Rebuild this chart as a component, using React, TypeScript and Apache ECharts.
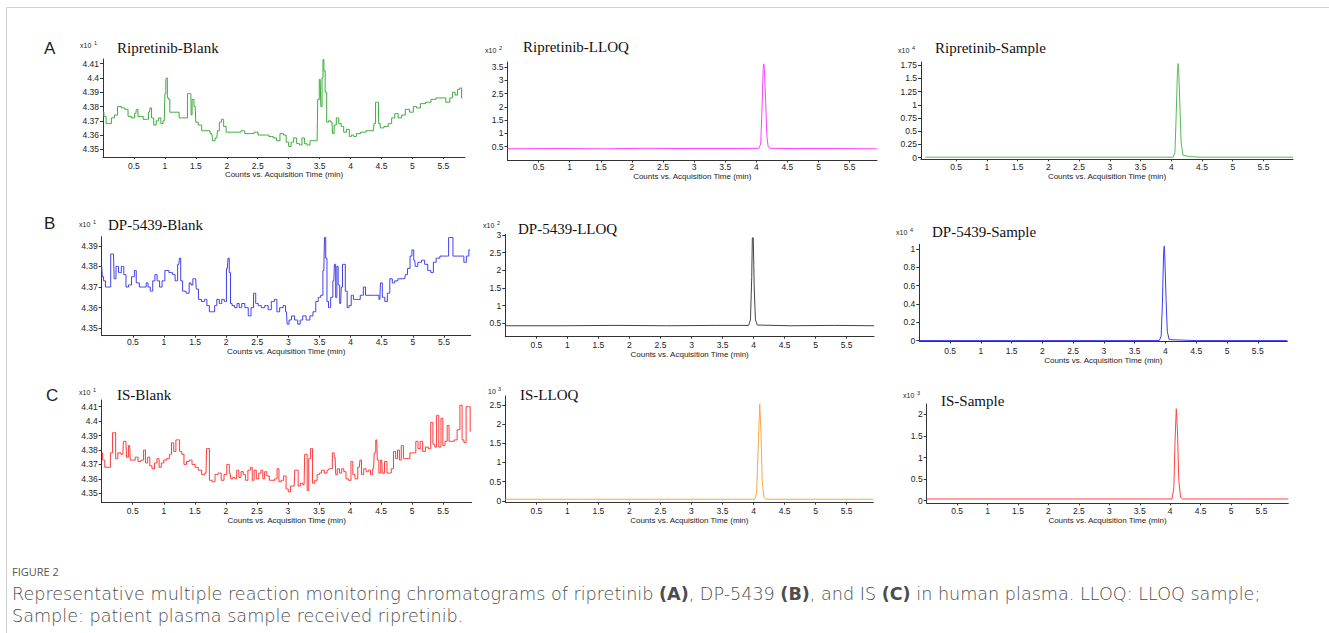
import React, { useEffect, useRef } from "react";
import * as echarts from "echarts";

// ---- data (time in min, response in displayed units) ----
const ripretinibBlank: [number, number][] = [
  [0, 4.376], [0.03, 4.373], [0.07, 4.368], [0.11, 4.368], [0.16, 4.372], [0.21, 4.374], [0.26, 4.38], [0.33, 4.379],
  [0.38, 4.378], [0.43, 4.373], [0.49, 4.372], [0.53, 4.375], [0.55, 4.378], [0.58, 4.373], [0.62, 4.373], [0.68, 4.371],
  [0.72, 4.371], [0.75, 4.376], [0.77, 4.379], [0.8, 4.372], [0.84, 4.367], [0.88, 4.37], [0.92, 4.372], [0.95, 4.368],
  [0.99, 4.37], [1.01, 4.389], [1.02, 4.399], [1.03, 4.4], [1.05, 4.386], [1.07, 4.385], [1.09, 4.376], [1.19, 4.376],
  [1.27, 4.372], [1.35, 4.372], [1.38, 4.389], [1.42, 4.389], [1.43, 4.374], [1.45, 4.385], [1.49, 4.38], [1.51, 4.369],
  [1.57, 4.367], [1.62, 4.363], [1.7, 4.363], [1.76, 4.361], [1.78, 4.356], [1.84, 4.358], [1.86, 4.363], [1.9, 4.369],
  [1.93, 4.371], [1.97, 4.366], [2.01, 4.362], [2.11, 4.362], [2.19, 4.362], [2.27, 4.363], [2.31, 4.361], [2.4, 4.361],
  [2.48, 4.362], [2.53, 4.36], [2.64, 4.36], [2.72, 4.359], [2.78, 4.358], [2.83, 4.356], [2.89, 4.361], [2.94, 4.36],
  [2.98, 4.355], [3.02, 4.352], [3.06, 4.355], [3.1, 4.358], [3.16, 4.354], [3.19, 4.353], [3.24, 4.358], [3.27, 4.354],
  [3.32, 4.353], [3.37, 4.356], [3.46, 4.356], [3.48, 4.385], [3.51, 4.399], [3.53, 4.38], [3.55, 4.4], [3.56, 4.413],
  [3.58, 4.405], [3.6, 4.39], [3.63, 4.369], [3.66, 4.37], [3.7, 4.369], [3.72, 4.361], [3.75, 4.367], [3.79, 4.372],
  [3.83, 4.368], [3.87, 4.366], [3.91, 4.362], [3.96, 4.364], [4.0, 4.359], [4.03, 4.36], [4.07, 4.359], [4.12, 4.361],
  [4.21, 4.362], [4.29, 4.363], [4.37, 4.363], [4.39, 4.368], [4.42, 4.383], [4.45, 4.383], [4.46, 4.368], [4.5, 4.365],
  [4.58, 4.366], [4.64, 4.368], [4.69, 4.372], [4.74, 4.375], [4.8, 4.372], [4.85, 4.374], [4.92, 4.378], [4.99, 4.376],
  [5.04, 4.38], [5.09, 4.379], [5.17, 4.382], [5.26, 4.383], [5.34, 4.385], [5.42, 4.386], [5.5, 4.386], [5.58, 4.383],
  [5.63, 4.386], [5.67, 4.39], [5.71, 4.388], [5.75, 4.392], [5.78, 4.393], [5.81, 4.386],
];

const ripretinibLLOQ: [number, number][] = [
  [0, 0.42], [0.8, 0.43], [1.6, 0.42], [2.2, 0.44], [3.0, 0.43], [3.7, 0.43], [4.04, 0.44], [4.07, 0.6], [4.09, 1.8],
  [4.11, 3.4], [4.12, 3.62], [4.13, 3.4], [4.15, 2.2], [4.17, 0.9], [4.19, 0.5], [4.22, 0.44], [4.6, 0.43], [5.2, 0.43],
  [5.94, 0.42],
];

const ripretinibSample: [number, number][] = [
  [0, 0.01], [1.0, 0.01], [2.0, 0.01], [3.0, 0.01], [4.03, 0.01], [4.06, 0.1], [4.08, 0.8], [4.1, 1.6], [4.11, 1.78],
  [4.12, 1.7], [4.14, 1.0], [4.16, 0.3], [4.19, 0.05], [4.3, 0.02], [4.5, 0.01], [5.98, 0.01],
];

const dp5439Blank: [number, number][] = [
  [0, 4.38], [0.02, 4.375], [0.04, 4.373], [0.08, 4.37], [0.13, 4.37], [0.16, 4.386], [0.19, 4.386], [0.21, 4.374],
  [0.25, 4.38], [0.29, 4.377], [0.34, 4.38], [0.37, 4.376], [0.41, 4.37], [0.45, 4.371], [0.51, 4.375], [0.54, 4.378],
  [0.57, 4.372], [0.64, 4.37], [0.7, 4.37], [0.73, 4.372], [0.76, 4.37], [0.8, 4.368], [0.84, 4.373], [0.87, 4.376],
  [0.91, 4.373], [0.95, 4.37], [0.99, 4.373], [1.04, 4.378], [1.12, 4.377], [1.16, 4.376], [1.2, 4.373], [1.24, 4.381],
  [1.26, 4.384], [1.28, 4.373], [1.32, 4.368], [1.39, 4.367], [1.42, 4.372], [1.45, 4.371], [1.48, 4.374], [1.51, 4.374],
  [1.53, 4.369], [1.58, 4.364], [1.63, 4.363], [1.67, 4.364], [1.71, 4.361], [1.75, 4.358], [1.8, 4.358], [1.83, 4.361],
  [1.87, 4.364], [1.91, 4.362], [1.95, 4.364], [1.99, 4.363], [2.02, 4.379], [2.04, 4.384], [2.06, 4.377], [2.08, 4.362],
  [2.11, 4.361], [2.16, 4.36], [2.19, 4.362], [2.23, 4.36], [2.27, 4.362], [2.33, 4.36], [2.38, 4.356], [2.42, 4.36],
  [2.46, 4.367], [2.49, 4.362], [2.54, 4.361], [2.59, 4.36], [2.65, 4.361], [2.7, 4.359], [2.75, 4.363], [2.8, 4.364],
  [2.83, 4.358], [2.89, 4.36], [2.94, 4.361], [2.97, 4.358], [2.99, 4.352], [3.03, 4.354], [3.07, 4.356], [3.13, 4.354],
  [3.17, 4.352], [3.21, 4.354], [3.25, 4.356], [3.32, 4.354], [3.37, 4.356], [3.42, 4.358], [3.46, 4.363], [3.5, 4.365],
  [3.54, 4.366], [3.57, 4.378], [3.59, 4.394], [3.61, 4.384], [3.63, 4.363], [3.66, 4.36], [3.7, 4.365], [3.73, 4.373],
  [3.75, 4.381], [3.77, 4.365], [3.79, 4.38], [3.81, 4.371], [3.84, 4.362], [3.86, 4.37], [3.88, 4.381], [3.9, 4.381],
  [3.93, 4.368], [3.96, 4.36], [3.99, 4.361], [4.03, 4.366], [4.06, 4.364], [4.12, 4.364], [4.19, 4.366], [4.22, 4.37],
  [4.26, 4.366], [4.33, 4.366], [4.44, 4.366], [4.47, 4.364], [4.49, 4.372], [4.53, 4.365], [4.57, 4.363], [4.61, 4.367],
  [4.65, 4.374], [4.69, 4.372], [4.73, 4.373], [4.79, 4.374], [4.87, 4.374], [4.89, 4.376], [4.94, 4.379], [4.97, 4.385],
  [5.0, 4.388], [5.03, 4.383], [5.05, 4.38], [5.11, 4.382], [5.17, 4.383], [5.21, 4.381], [5.27, 4.378], [5.31, 4.377],
  [5.35, 4.382], [5.4, 4.384], [5.47, 4.385], [5.52, 4.385], [5.56, 4.385], [5.59, 4.394], [5.63, 4.394], [5.66, 4.385],
  [5.72, 4.385], [5.8, 4.385], [5.84, 4.382], [5.88, 4.385], [5.92, 4.388],
];

const dp5439LLOQ: [number, number][] = [
  [0, 0.43], [0.9, 0.43], [1.8, 0.44], [2.6, 0.43], [3.4, 0.44], [3.92, 0.44], [3.95, 0.6], [3.97, 1.8], [3.98, 2.92],
  [3.995, 2.92], [4.01, 1.5], [4.03, 0.6], [4.06, 0.45], [4.6, 0.43], [5.3, 0.44], [5.94, 0.43],
];

const dp5439Sample: [number, number][] = [
  [0, 0.0], [1.5, 0.0], [3.0, 0.0], [3.9, 0.0], [3.93, 0.05], [3.95, 0.4], [3.97, 0.95], [3.98, 1.03], [3.99, 0.9],
  [4.01, 0.45], [4.03, 0.1], [4.06, 0.01], [4.5, 0.0], [5.98, 0.0],
];

const isBlank: [number, number][] = [
  [0, 4.378], [0.03, 4.373], [0.07, 4.368], [0.12, 4.368], [0.16, 4.378], [0.19, 4.392], [0.21, 4.392], [0.24, 4.374],
  [0.28, 4.378], [0.34, 4.377], [0.36, 4.386], [0.39, 4.386], [0.41, 4.375], [0.45, 4.383], [0.47, 4.373], [0.52, 4.373],
  [0.56, 4.375], [0.61, 4.372], [0.66, 4.373], [0.69, 4.38], [0.72, 4.371], [0.76, 4.375], [0.79, 4.369], [0.83, 4.367],
  [0.87, 4.371], [0.91, 4.374], [0.94, 4.368], [0.98, 4.371], [1.02, 4.373], [1.07, 4.374], [1.11, 4.377], [1.14, 4.385],
  [1.18, 4.379], [1.21, 4.387], [1.24, 4.387], [1.27, 4.379], [1.31, 4.377], [1.34, 4.37], [1.39, 4.372], [1.43, 4.373],
  [1.48, 4.37], [1.53, 4.368], [1.58, 4.366], [1.64, 4.363], [1.68, 4.364], [1.7, 4.381], [1.72, 4.381], [1.75, 4.359],
  [1.8, 4.358], [1.85, 4.363], [1.9, 4.364], [1.95, 4.359], [1.99, 4.363], [2.04, 4.37], [2.07, 4.364], [2.09, 4.36],
  [2.13, 4.361], [2.16, 4.36], [2.19, 4.366], [2.23, 4.361], [2.26, 4.365], [2.3, 4.363], [2.33, 4.359], [2.38, 4.366],
  [2.41, 4.368], [2.44, 4.359], [2.47, 4.366], [2.51, 4.36], [2.55, 4.364], [2.58, 4.366], [2.61, 4.36], [2.64, 4.365],
  [2.68, 4.362], [2.72, 4.359], [2.76, 4.359], [2.81, 4.36], [2.84, 4.367], [2.87, 4.358], [2.91, 4.359], [2.95, 4.362],
  [2.99, 4.353], [3.02, 4.351], [3.06, 4.355], [3.1, 4.355], [3.12, 4.366], [3.15, 4.366], [3.18, 4.355], [3.22, 4.357],
  [3.26, 4.356], [3.28, 4.377], [3.3, 4.377], [3.32, 4.352], [3.35, 4.374], [3.38, 4.381], [3.41, 4.357], [3.45, 4.359],
  [3.49, 4.363], [3.52, 4.364], [3.56, 4.366], [3.61, 4.364], [3.65, 4.366], [3.67, 4.367], [3.7, 4.367], [3.73, 4.378],
  [3.76, 4.375], [3.78, 4.363], [3.81, 4.367], [3.85, 4.364], [3.88, 4.367], [3.92, 4.365], [3.95, 4.36], [4.0, 4.359],
  [4.03, 4.372], [4.06, 4.363], [4.1, 4.36], [4.15, 4.368], [4.17, 4.373], [4.2, 4.363], [4.24, 4.367], [4.28, 4.365],
  [4.31, 4.366], [4.35, 4.363], [4.38, 4.367], [4.4, 4.378], [4.43, 4.387], [4.45, 4.373], [4.48, 4.364], [4.51, 4.373],
  [4.53, 4.364], [4.58, 4.372], [4.61, 4.364], [4.65, 4.364], [4.68, 4.367], [4.72, 4.379], [4.75, 4.374], [4.78, 4.38],
  [4.81, 4.373], [4.84, 4.383], [4.88, 4.374], [4.94, 4.374], [4.99, 4.378], [5.04, 4.378], [5.08, 4.386], [5.11, 4.381],
  [5.15, 4.386], [5.19, 4.379], [5.24, 4.382], [5.28, 4.381], [5.32, 4.399], [5.35, 4.384], [5.38, 4.382], [5.41, 4.404],
  [5.45, 4.382], [5.48, 4.402], [5.51, 4.383], [5.55, 4.386], [5.58, 4.397], [5.61, 4.386], [5.66, 4.386], [5.7, 4.387],
  [5.75, 4.394], [5.79, 4.411], [5.82, 4.387], [5.85, 4.385], [5.89, 4.41], [5.92, 4.41], [5.95, 4.393],
];

const isLLOQ: [number, number][] = [
  [0, 0.04], [1.2, 0.04], [2.4, 0.04], [3.6, 0.04], [4.02, 0.04], [4.05, 0.2], [4.08, 1.6], [4.1, 2.52], [4.12, 1.8],
  [4.14, 0.5], [4.17, 0.08], [4.2, 0.04], [5.0, 0.04], [5.93, 0.04],
];

const isSample: [number, number][] = [
  [0, 0.04], [1.2, 0.04], [2.4, 0.04], [3.6, 0.04], [4.03, 0.04], [4.06, 0.3], [4.08, 1.4], [4.1, 2.13], [4.12, 1.6],
  [4.14, 0.5], [4.17, 0.08], [4.2, 0.04], [5.0, 0.04], [5.94, 0.04],
];

const xTicks = [0.5, 1, 1.5, 2, 2.5, 3, 3.5, 4, 4.5, 5, 5.5];
const blankTicksA = [4.35, 4.36, 4.37, 4.38, 4.39, 4.4, 4.41];
const blankTicksB = [4.35, 4.36, 4.37, 4.38, 4.39];
const lloqTicksA = [0.5, 1, 1.5, 2, 2.5, 3, 3.5];
const sampleTicksA = [0, 0.25, 0.5, 0.75, 1, 1.25, 1.5, 1.75];
const lloqTicksB = [0.5, 1, 1.5, 2, 2.5, 3];
const sampleTicksB = [0, 0.2, 0.4, 0.6, 0.8, 1];
const lloqTicksC = [0, 0.5, 1, 1.5, 2, 2.5];
const sampleTicksC = [0, 0.5, 1, 1.5, 2];

const panelTitles = [
  "Ripretinib-Blank", "Ripretinib-LLOQ", "Ripretinib-Sample",
  "DP-5439-Blank", "DP-5439-LLOQ", "DP-5439-Sample",
  "IS-Blank", "IS-LLOQ", "IS-Sample",
];
const scaleBases = ["x10", "x10", "x10", "x10", "x10", "x10", "x10", "10", "x10"];
const scaleExps = ["1", "2", "4", "1", "2", "4", "1", "3", "3"];
const xName = "Counts vs. Acquisition Time (min)";

type Panel = {
  data: [number, number][];
  color: string;
  step: boolean;
  ticks: number[];
  grid: { left: number; top: number; right: number; bottom: number };
  xMin: number; xMax: number; yMin: number; yMax: number;
  labelMargin: number; nameGap: number;
  title: { x: number; y: number };
  scale: { x: number; y: number };
};

const panels: Panel[] = [
  { data: ripretinibBlank, color: "#3dab3d", step: true, ticks: blankTicksA,
    grid: { left: 103, top: 59, right: 465, bottom: 157 }, xMin: 0, xMax: 5.85, yMin: 4.3446, yMax: 4.4133,
    labelMargin: 4, nameGap: 12, title: { x: 117, y: 48 }, scale: { x: 80, y: 45 } },
  { data: ripretinibLLOQ, color: "#ff40ff", step: false, ticks: lloqTicksA,
    grid: { left: 507.5, top: 62, right: 877, bottom: 160.5 }, xMin: 0, xMax: 5.94, yMin: -0.02, yMax: 3.69,
    labelMargin: 2, nameGap: 11, title: { x: 523, y: 47 }, scale: { x: 485, y: 50 } },
  { data: ripretinibSample, color: "#55bb55", step: false, ticks: sampleTicksA,
    grid: { left: 921, top: 62, right: 1293, bottom: 159.3 }, xMin: -0.07, xMax: 5.98, yMin: -0.03, yMax: 1.81,
    labelMargin: 3, nameGap: 12, title: { x: 935, y: 48 }, scale: { x: 898, y: 50 } },
  { data: dp5439Blank, color: "#4040ee", step: true, ticks: blankTicksB,
    grid: { left: 101.7, top: 236.7, right: 470.7, bottom: 335.7 }, xMin: 0, xMax: 5.93, yMin: 4.3464, yMax: 4.3944,
    labelMargin: 2, nameGap: 11, title: { x: 108, y: 225 }, scale: { x: 79, y: 224 } },
  { data: dp5439LLOQ, color: "#444444", step: false, ticks: lloqTicksB,
    grid: { left: 505.3, top: 234.3, right: 874, bottom: 336.7 }, xMin: 0, xMax: 5.94, yMin: 0.12, yMax: 3.02,
    labelMargin: 4, nameGap: 10, title: { x: 518, y: 229 }, scale: { x: 483, y: 225 } },
  { data: dp5439Sample, color: "#3a3aff", step: false, ticks: sampleTicksB,
    grid: { left: 919.3, top: 244.3, right: 1287.3, bottom: 341.5 }, xMin: 0, xMax: 5.98, yMin: -0.01, yMax: 1.05,
    labelMargin: 5, nameGap: 13, title: { x: 932, y: 232 }, scale: { x: 896, y: 232 } },
  { data: isBlank, color: "#ff3a3a", step: true, ticks: blankTicksA,
    grid: { left: 101.7, top: 400, right: 471.7, bottom: 502.7 }, xMin: 0, xMax: 5.96, yMin: 4.3435, yMax: 4.4146,
    labelMargin: 4, nameGap: 10, title: { x: 117, y: 395 }, scale: { x: 79, y: 392 } },
  { data: isLLOQ, color: "#f8a93a", step: false, ticks: lloqTicksC,
    grid: { left: 505.3, top: 396, right: 873.3, bottom: 502.7 }, xMin: 0, xMax: 5.93, yMin: -0.05, yMax: 2.73,
    labelMargin: 4, nameGap: 10, title: { x: 520, y: 395 }, scale: { x: 488, y: 391 } },
  { data: isSample, color: "#ff4444", step: false, ticks: sampleTicksC,
    grid: { left: 926.7, top: 404, right: 1288.3, bottom: 503.3 }, xMin: 0, xMax: 5.94, yMin: -0.06, yMax: 2.24,
    labelMargin: 3, nameGap: 10, title: { x: 941, y: 401 }, scale: { x: 903, y: 395 } },
];

const panelLetters = [
  { text: "A", x: 44, y: 48 },
  { text: "B", x: 44, y: 223 },
  { text: "C", x: 46, y: 395 },
];

const W = 1329;
const H = 633;
const axisColor = "#333";
const sans = "Liberation Sans, Arial, sans-serif";
const serif = "Liberation Serif, Times New Roman, serif";
const labelFont = "Open Sans, Lato, sans-serif";
const captionFont = "DejaVu Sans, sans-serif";

export default function App() {
  const ref = useRef<HTMLDivElement>(null);
  useEffect(() => {
    if (!ref.current) return;
    const chart = echarts.init(ref.current, undefined, { renderer: "svg" });
    const fmt = (v: number) => String(+Number(v).toFixed(4));

    const grids = panels.map((p) => ({
      left: p.grid.left, top: p.grid.top,
      width: p.grid.right - p.grid.left, height: p.grid.bottom - p.grid.top,
      containLabel: false,
    }));
    const xAxes = panels.map((p, i) => ({
      type: "value", gridIndex: i, min: p.xMin, max: p.xMax,
      splitLine: { show: false },
      axisLine: { show: true, onZero: false, lineStyle: { color: axisColor, width: 1 } },
      axisTick: { show: true, length: 2, customValues: xTicks, lineStyle: { color: axisColor } },
      axisLabel: { customValues: xTicks, formatter: fmt, fontSize: 8.5, color: "#222", fontFamily: sans, margin: p.labelMargin },
      name: xName, nameLocation: "middle", nameGap: p.nameGap,
      nameTextStyle: { fontSize: 8, color: "#222", fontFamily: sans },
    }));
    const yAxes = panels.map((p, i) => ({
      type: "value", gridIndex: i, min: p.yMin, max: p.yMax,
      splitLine: { show: false },
      axisLine: { show: true, onZero: false, lineStyle: { color: axisColor, width: 1 } },
      axisTick: { show: true, length: 3, customValues: p.ticks, lineStyle: { color: axisColor } },
      axisLabel: { customValues: p.ticks, formatter: fmt, fontSize: 8.5, color: "#222", fontFamily: sans, margin: 4 },
    }));
    const series = panels.map((p, i) => ({
      type: "line", xAxisIndex: i, yAxisIndex: i, data: p.data,
      showSymbol: false, symbol: "none", step: p.step ? "middle" : false,
      lineStyle: { color: p.color, width: 1 }, itemStyle: { color: p.color },
      clip: true,
    }));

    const graphics: any[] = [
      { type: "line", shape: { x1: 6.5, y1: 7.5, x2: W, y2: 7.5 }, style: { stroke: "#d0d0d0", lineWidth: 1 } },
      { type: "line", shape: { x1: 6.5, y1: 7.5, x2: 6.5, y2: H }, style: { stroke: "#d0d0d0", lineWidth: 1 } },
    ];
    panelLetters.forEach((l) =>
      graphics.push({ type: "text", x: l.x, y: l.y, style: { text: l.text, fontSize: 17, fontFamily: sans, fill: "#222", verticalAlign: "middle" } })
    );
    panels.forEach((p, i) => {
      graphics.push({ type: "text", x: p.title.x, y: p.title.y,
        style: { text: panelTitles[i], fontSize: 15, fontFamily: serif, fill: "#111", verticalAlign: "middle" } });
      graphics.push({ type: "text", x: p.scale.x, y: p.scale.y,
        style: { text: scaleBases[i], fontSize: 7, fontFamily: sans, fill: "#222", verticalAlign: "middle" } });
      const bw = scaleBases[i] === "x10" ? 13 : 9;
      graphics.push({ type: "text", x: p.scale.x + bw + 1, y: p.scale.y - 2,
        style: { text: scaleExps[i], fontSize: 5.5, fontFamily: sans, fill: "#222", verticalAlign: "middle" } });
    });
    const capSize = 17.6;
    const capColor = "#4d4d4d";
    const capRich = {
      b: { fontSize: capSize, fontFamily: captionFont, fontWeight: "bold", fill: capColor },
    };
    graphics.push({ type: "text", x: 12, y: 571,
      style: { text: "FIGURE 2", fontSize: 11, fontFamily: labelFont, fill: "#555", verticalAlign: "middle" } });
    graphics.push({ type: "text", x: 12, y: 594,
      style: { text: "Representative multiple reaction monitoring chromatograms of ripretinib {b|(A)}, DP-5439 {b|(B)}, and IS {b|(C)} in human plasma. LLOQ: LLOQ sample;",
        fontSize: capSize, fontFamily: captionFont, fontWeight: 300, fill: capColor, verticalAlign: "middle", rich: capRich } });
    graphics.push({ type: "text", x: 12, y: 616,
      style: { text: "Sample: patient plasma sample received ripretinib.", fontSize: capSize, fontFamily: captionFont, fontWeight: 300, fill: capColor, verticalAlign: "middle" } });

    chart.setOption({
      animation: false,
      backgroundColor: "#ffffff",
      grid: grids,
      xAxis: xAxes,
      yAxis: yAxes,
      series,
      graphic: graphics,
    } as any);
    return () => chart.dispose();
  }, []);
  return <div ref={ref} style={{ position: "fixed", left: 0, top: 0, width: W, height: H }} />;
}
